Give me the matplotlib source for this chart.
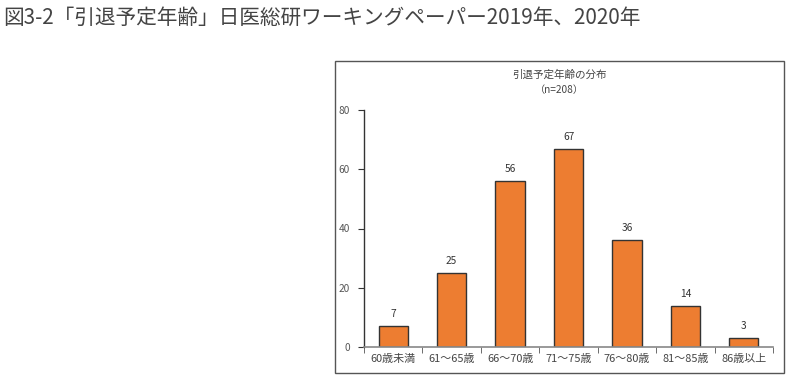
import matplotlib
matplotlib.use("Agg")
import matplotlib.pyplot as plt
from matplotlib.patches import Rectangle
import numpy as np

plt.rcParams['font.family'] = ['Noto Sans CJK JP', 'DejaVu Sans']

categories = ["60歳未満", "61～65歳", "66～70歳", "71～75歳", "76～80歳", "81～85歳", "86歳以上"]
values = [7, 25, 56, 67, 36, 14, 3]
yticks = [0, 20, 40, 60, 80]

fig = plt.figure(figsize=(7.88, 3.8), dpi=100)
fig.patch.set_facecolor('white')

fig.text(0.004, 0.952, "図3-2「引退予定年齢」日医総研ワーキングペーパー2019年、2020年",
         fontsize=14.9, color='#444444', va='center', ha='left')

# outer frame
frame = Rectangle((335/788, 1-373/380), (784-335)/788, (373-61)/380,
                  transform=fig.transFigure, fill=False, edgecolor='#555555', linewidth=1.0)
fig.patches.append(frame)

ax = fig.add_axes([364/788, 1-347/380, (773-364)/788, (347-110)/380])
x = np.arange(len(categories))
ax.bar(x, values, width=0.5, color='#ED7D31', edgecolor='#333333', linewidth=1.0, zorder=2)
for xi, v in zip(x, values):
    ax.annotate(str(v), (xi, v), xytext=(0, 5), textcoords='offset points',
                ha='center', va='bottom', fontsize=7.3, color='#333333')

ax.set_xlim(-0.5, len(categories) - 0.5)
ax.set_ylim(0, 80)
ax.set_yticks(yticks)
ax.set_yticklabels([str(t) for t in yticks], fontsize=7.3, color='#555555')
ax.set_xticks(x)
ax.set_xticklabels(categories, fontsize=7.9, color='#444444')
ax.tick_params(axis='x', which='major', length=0, pad=5)
ax.set_xticks(np.arange(-0.5, len(categories)), minor=True)
ax.tick_params(axis='x', which='minor', length=4, direction='out', color='#555555')
ax.tick_params(axis='y', length=4, direction='out', color='#333333', pad=6)

for s in ['top', 'right']:
    ax.spines[s].set_visible(False)
ax.spines['left'].set_color('#333333')
ax.spines['bottom'].set_color('#888888')
ax.spines['left'].set_linewidth(1.0)
ax.spines['bottom'].set_linewidth(1.2)

fig.text((335+784)/2/788, 1-75/380, "引退予定年齢の分布", fontsize=7.6, color='#444444',
         ha='center', va='center')
fig.text((335+784)/2/788, 1-90/380, "（n=208）", fontsize=7.3, color='#444444',
         ha='center', va='center')

fig.savefig("out.png", dpi=100)
